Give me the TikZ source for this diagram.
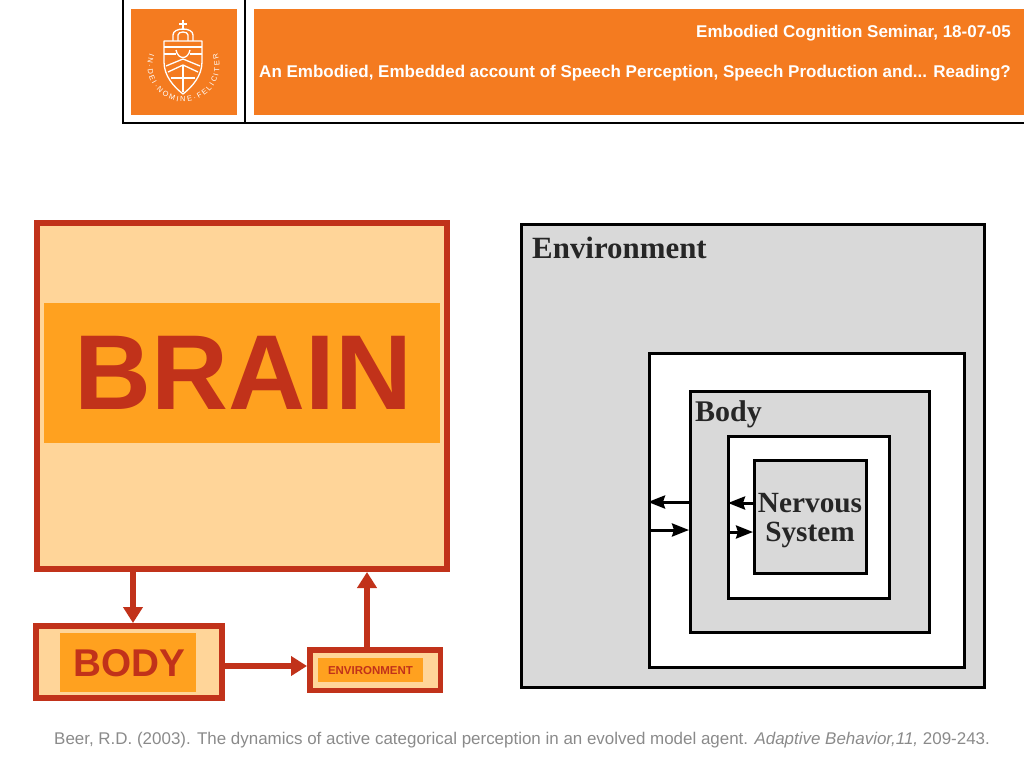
\documentclass[tikz,border=0pt]{standalone}
\usepackage{fontspec}
\setmainfont{Liberation Sans}
\newfontfamily\serifbf[Scale=1]{Liberation Serif}
\usetikzlibrary{arrows.meta,calc,decorations.text}
\definecolor{ruorange}{HTML}{F47B20}
\definecolor{brick}{HTML}{C1321A}
\definecolor{pale}{HTML}{FFD599}
\definecolor{amber}{HTML}{FFA11F}
\definecolor{panel}{HTML}{D9D9D9}
\definecolor{cite}{HTML}{8A8A8A}
\tikzset{
  px/.style={inner sep=0pt,outer sep=0pt,text depth=0pt},
  banner/.style={px,fill=ruorange,anchor=north west},
  redbox/.style={draw=brick,fill=pale,inner sep=0pt,line width=#1,outer sep=.5*#1},
  band/.style={px,fill=amber,text=brick,font=\bfseries,align=center},
  redarrow/.style={draw=brick,line width=6pt,-{Triangle[length=16pt,width=19pt,fill=brick]}},
  figbox/.style={draw=black,line width=3pt,inner sep=0pt,outer sep=1.5pt},
  figarrow/.style={draw=black,line width=3pt,-{Stealth[length=17pt,width=13pt,inset=2pt]}},
  figtext/.style={inner sep=0pt,text=black!85,font=\serifbf\bfseries,align=center},
  crest/.style={draw=white,line width=1.3pt,line join=round,fill=none},
  head/.style={inner sep=0pt,anchor=east,text=white,font=\bfseries\fontsize{17}{19}\selectfont},
}
\begin{document}
\begin{tikzpicture}[x=1pt,y=-1pt]
\useasboundingbox (0,0) rectangle (1024,768);
% header
\draw[line width=1.8pt,black] (123,0) -- (123,123) -- (1024,123);
\draw[line width=1.8pt,black] (245,0) -- (245,123);
\node[banner,minimum width=106pt,minimum height=106pt] (logobox) at (131,9) {};
\node[banner,minimum width=770pt,minimum height=106pt] (titlebox) at (254,9) {};
\node[head] (t1) at (1011,33.5) {Embodied Cognition Seminar, 18-07-05};
\node[head] (t2) at (1011,73.5) {An Embodied, Embedded account of Speech Perception, Speech Production and... Reading?};
% crest
\draw[crest] (164,41) -- (202,41) -- (202,62) .. controls (202,76) and (192,87) .. (183,94) .. controls (174,87) and (164,76) .. (164,62) -- cycle;
\draw[crest] (173,41) -- (173,35) .. controls (173,27) and (193,27) .. (193,35) -- (193,41);
\draw[crest] (178,41) -- (178,35) .. controls (178,31) and (188,31) .. (188,35) -- (188,41);
\draw[crest,line width=2.2pt] (183,30) -- (183,20) (179,24) -- (187,24);
\draw[crest] (164,47) -- (202,47) (164,54) -- (176,54) (190,54) -- (202,54);
\draw[crest] (176,50) .. controls (178,60) and (188,60) .. (190,50);
\draw[crest] (166,66) -- (183,59) -- (200,66) (168,72) -- (183,65) -- (198,72);
\draw[crest,line width=1.8pt] (183,65) -- (183,92) (171,78) -- (195,78);
\path[decorate,decoration={text along path,text align={fit to path},
  text={|\fontsize{7.4}{9}\selectfont\color{white}|IN·DEI·NOMINE·FELICITER}}]
  (149.7,53.7) arc[start angle=200,end angle=-20,radius=36,x=1pt,y=1pt];
% left diagram
\node[redbox=6pt,minimum width=410pt,minimum height=346pt] (brain) at (241.5,396) {};
\node[band,minimum width=396pt,minimum height=140pt,font=\bfseries\fontsize{106.5}{107}\selectfont] (brainlabel) at (242,373) {\hspace*{3pt}BRAIN};
\node[redbox=6pt,minimum width=186pt,minimum height=72pt] (body) at (129,662) {};
\node[band,minimum width=136pt,minimum height=59pt,font=\bfseries\fontsize{38.7}{40}\selectfont] (bodylabel) at (128,662.5) {\hspace*{2pt}BODY};
\node[redbox=5.5pt,minimum width=130.5pt,minimum height=40.5pt] (envbox) at (375,670) {};
\node[band,minimum width=105pt,minimum height=24pt,font=\bfseries\fontsize{11.5}{12}\selectfont] (envlabel) at (370.5,670) {ENVIRONMENT};
\draw[redarrow] ([xshift=4pt]brain.south -| body.north) -- ([xshift=4pt]body.north);
\draw[redarrow] ([yshift=4pt]body.east |- envbox.west) -- ([yshift=4pt]envbox.west);
\draw[redarrow] ([xshift=-8pt]envbox.north) -- ([xshift=-8pt]envbox.north |- brain.south);
% right diagram
\node[figbox,fill=panel,minimum width=463pt,minimum height=463pt] (envout) at (753,456) {};
\node[figbox,fill=white,minimum width=315pt,minimum height=314pt] (envgap) at (807,510.5) {};
\node[figbox,fill=panel,minimum width=239pt,minimum height=241pt] (bodyout) at (810,512) {};
\node[figbox,fill=white,minimum width=161pt,minimum height=162pt] (bodygap) at (809,517.5) {};
\node[figbox,fill=panel,minimum width=112pt,minimum height=113pt] (ns) at (810.5,517) {};
\node[figtext,anchor=base west,font=\serifbf\bfseries\fontsize{30.9}{31}\selectfont] (envt) at (532,258) {Environment};
\node[figtext,anchor=base west,font=\serifbf\bfseries\fontsize{30}{31}\selectfont] (bodyt) at (695,421) {Body};
\node[figtext,font=\serifbf\bfseries\fontsize{29.3}{29}\selectfont] (nst) at (810,521) {Nervous\\System};
\coordinate (a1) at (bodyout.west |- 0,502);
\coordinate (a2) at (envgap.west |- 0,530);
\coordinate (a3) at (ns.west |- 0,503);
\coordinate (a4) at (bodygap.west |- 0,532);
\draw[figarrow] (a1) -- (envgap.west |- a1);
\draw[figarrow] (a2) -- (bodyout.west |- a2);
\draw[figarrow] (a3) -- ([xshift=1pt]bodygap.west |- a3);
\draw[figarrow] (a4) -- (ns.west |- a4);
% citation
\node[inner sep=0pt,anchor=base west,text=cite,font=\fontsize{16.95}{18}\selectfont] (ref) at (54,744) {Beer, R.D. (2003). The dynamics of active categorical perception in an evolved model agent. \textit{Adaptive Behavior,11,} 209-243.};
\end{tikzpicture}
\end{document}
